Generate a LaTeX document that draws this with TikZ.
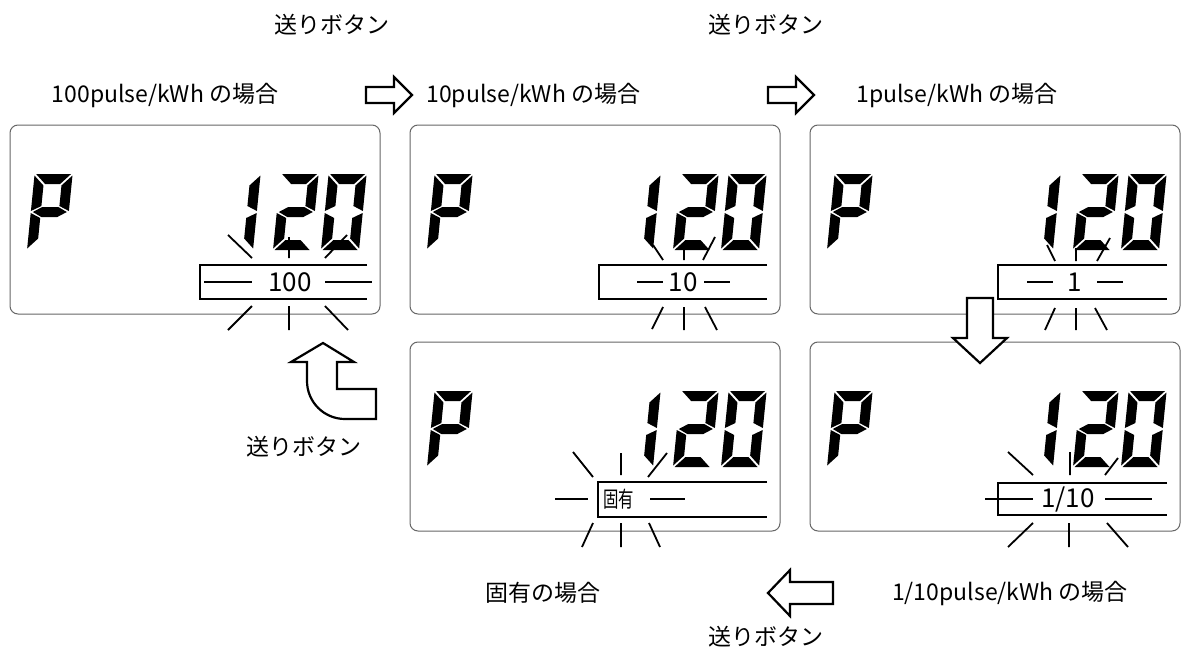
\documentclass[tikz,border=0pt]{standalone}
\usepackage{fontspec}
\setmainfont{Noto Sans CJK JP}

\tikzset{
  panel/.style={draw=black!60,line width=0.5pt,rounded corners=4},
  seg/.style={fill=black},
  ray/.style={line width=0.9pt},
  sel/.style={line width=0.8pt},
  blockarrow/.style={draw,line width=1.1pt,fill=white,line join=miter},
  lab/.style={font=\fontsize{11.5}{14}\selectfont,inner sep=0pt},
  val/.style={font=\fontsize{13}{15}\selectfont,inner sep=0pt}
}
\newcommand{\segA}{\fill[seg] (1.5,76) -- (36.5,76) -- (26.5,66) -- (11.5,66) -- cycle;}
\newcommand{\segB}{\fill[seg] (38,74.5) -- (38,39) -- (28,44) -- (28,64.5) -- cycle;}
\newcommand{\segC}{\fill[seg] (38,37) -- (38,1.5) -- (28,11.5) -- (28,32) -- cycle;}
\newcommand{\segD}{\fill[seg] (1.5,0) -- (36.5,0) -- (26.5,10) -- (11.5,10) -- cycle;}
\newcommand{\segE}{\fill[seg] (0,37) -- (0,1.5) -- (10,11.5) -- (10,32) -- cycle;}
\newcommand{\segF}{\fill[seg] (0,74.5) -- (0,39) -- (10,44) -- (10,64.5) -- cycle;}
\newcommand{\segG}{\fill[seg] (2,38) -- (11,43) -- (27,43) -- (36,38) -- (27,33) -- (11,33) -- cycle;}
\newcommand{\lcd}[3]{\begin{scope}[shift={(#1,#2)},yscale=-1,xslant=-0.1]
  \foreach \s in {#3}{\csname seg\s\endcsname}\end{scope}}

\begin{document}
\begin{tikzpicture}[x=0.5pt,y=-0.5pt]
\fill[white] (0,0) rectangle (1184,653);
\useasboundingbox (0,0) rectangle (1184,653);

\foreach \dx/\dy in {0/0,400/0,800/0,400/217,800/217}{
  \begin{scope}[shift={(\dx,\dy)}]
    \draw[panel] (10,125) rectangle (380,314);
    \lcd{27}{250}{A,B,E,F,G}
    \lcd{215}{250}{B,C}
    \lcd{273}{250}{A,B,G,E,D}
    \lcd{321}{250}{A,B,C,D,E,F}
  \end{scope}
}

% 100
\draw[sel] (367,265) -- (200,265) -- (200,299) -- (367,299);
\node[val] (v100) at (290,282) {100};
\draw[ray] (204,282) -- (252,282) (325,282) -- (372,282);
\draw[ray] (228,235) -- (252,258) (289,237) -- (289,258) (347,235) -- (325,258);
\draw[ray] (252,306) -- (228,330) (289,306) -- (289,330) (325,306) -- (348,330);

% 10
\draw[sel] (767,265) -- (599,265) -- (599,299) -- (767,299);
\node[val] (v10) at (683,282) {10};
\draw[ray] (637,282) -- (663,282) (704,282) -- (730,282);
\draw[ray] (653,245) -- (663,260) (684,250) -- (684,260) (715,237) -- (703,260);
\draw[ray] (663,307) -- (652,329) (684,307) -- (684,330) (705,307) -- (717,330);

% 1
\draw[sel] (1167,265) -- (998,265) -- (998,299) -- (1167,299);
\node[val] (v1) at (1075,282) {1};
\draw[ray] (1027,282) -- (1053,282) (1097,282) -- (1123,282);
\draw[ray] (1047,245) -- (1055,261) (1076,248) -- (1076,261) (1110,238) -- (1097,261);
\draw[ray] (1055,308) -- (1045,330) (1076,308) -- (1076,330) (1095,308) -- (1107,330);

% koyu
\draw[sel] (767,482) -- (598,482) -- (598,517) -- (767,517);
\node[val,anchor=west,font=\fontsize{11}{12}\selectfont] (vkoyu) at (603,499) {\scalebox{0.7}[1]{固有}};
\draw[ray] (555,499) -- (588,499) (650,499) -- (685,499);
\draw[ray] (573,452) -- (593,477) (621,453) -- (621,475) (667,453) -- (648,477);
\draw[ray] (593,523) -- (582,547) (621,523) -- (621,547) (649,523) -- (660,547);

% 1/10
\draw[sel] (1167,483) -- (998,483) -- (998,515) -- (1167,515);
\node[val] (v01) at (1068,499) {1/10};
\draw[ray] (985,499) -- (1033,499) (1105,499) -- (1152,499);
\draw[ray] (1008,452) -- (1033,475) (1070,452) -- (1070,475) (1118,458) -- (1105,475);
\draw[ray] (1033,523) -- (1008,547) (1069,523) -- (1069,547) (1107,523) -- (1128,547);

\node[lab] (btnA) at (332,25) {送りボタン};
\node[lab] (btnB) at (766,25) {送りボタン};
\node[lab] (btnC) at (304,447) {送りボタン};
\node[lab] (btnD) at (766,637) {送りボタン};
\node[lab] (p100) at (165,95) {100pulse/kWh の場合};
\node[lab,anchor=west] (p10) at (426,95) {10pulse/kWh の場合};
\node[lab,anchor=west] (p1) at (856,95) {1pulse/kWh の場合};
\node[lab] (pkoyu) at (543,593) {固有の場合};
\node[lab] (p01) at (1010,593) {1/10pulse/kWh の場合};

\draw[blockarrow] (366,87) -- (394,87) -- (394,77) -- (412,95) -- (394,113) -- (394,103) -- (366,103) -- cycle;
\draw[blockarrow] (768,87) -- (796,87) -- (796,77) -- (814,95) -- (796,113) -- (796,103) -- (768,103) -- cycle;
\draw[blockarrow] (967,298) -- (993,298) -- (993,338) -- (1007,338) -- (980,363) -- (953,338) -- (967,338) -- cycle;
\draw[blockarrow] (833,582) -- (790,582) -- (790,570) -- (768,593) -- (790,616) -- (790,604) -- (833,604) -- cycle;
\draw[blockarrow] (323,343) -- (354,362) -- (337,362) -- (337,389) -- (376,389) -- (376,419) -- (345,419)
  .. controls (324,419) and (307,402) .. (307,381) -- (307,362) -- (291,362) -- cycle;
\end{tikzpicture}
\end{document}
